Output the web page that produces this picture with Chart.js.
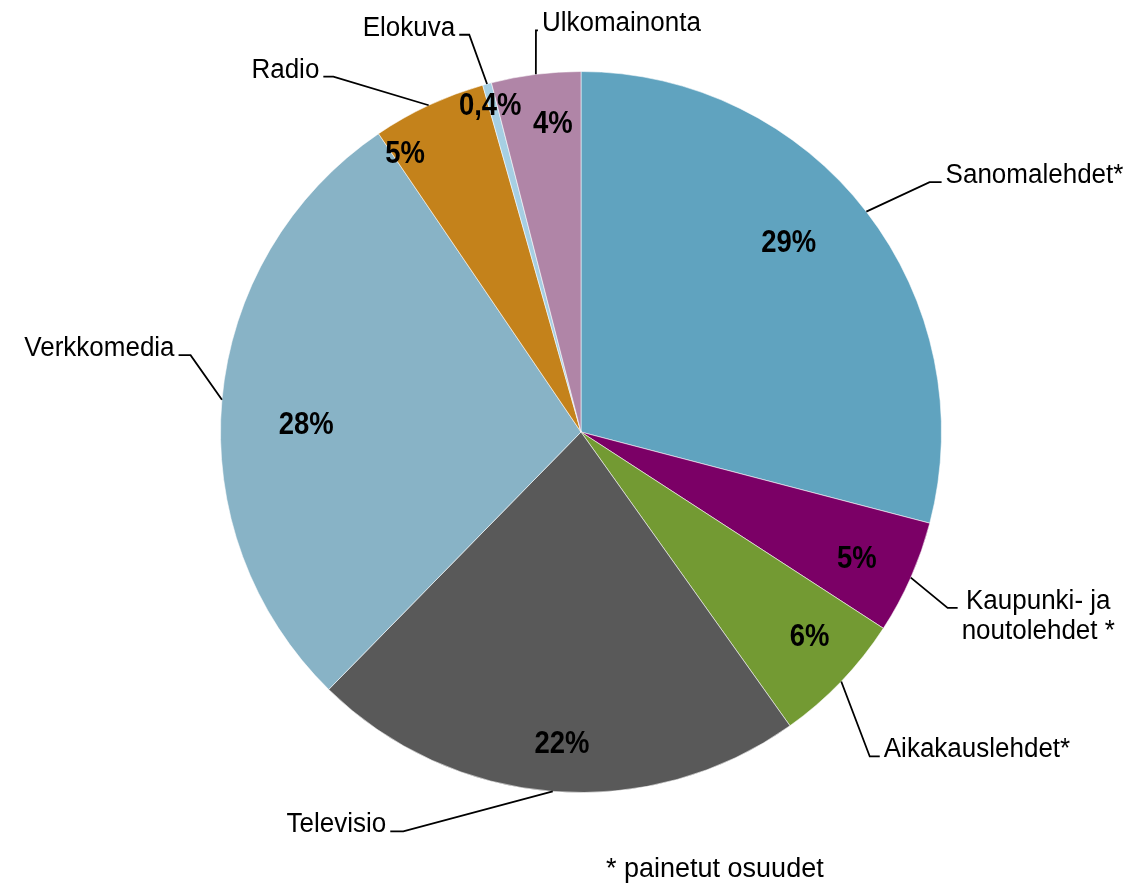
<!DOCTYPE html>
<html>
<head>
<meta charset="utf-8">
<script src="https://cdn.jsdelivr.net/npm/chart.js@4/dist/chart.umd.min.js"></script>
<style>
  html, body { margin: 0; padding: 0; background: #ffffff; }
  #wrap { width: 1131px; height: 885px; position: relative; }
  canvas { display: block; }
</style>
</head>
<body>
<div id="wrap"><canvas id="c" width="1131" height="885"></canvas></div>
<script>
// ---- data ----
const categories = ['Sanomalehdet*', 'Kaupunki- ja noutolehdet *', 'Aikakauslehdet*', 'Televisio', 'Verkkomedia', 'Radio', 'Elokuva', 'Ulkomainonta'];
const categoryLines = [['Sanomalehdet*'], ['Kaupunki- ja', 'noutolehdet *'], ['Aikakauslehdet*'], ['Televisio'], ['Verkkomedia'], ['Radio'], ['Elokuva'], ['Ulkomainonta']];
const shares = [29.1, 5.1, 6.0, 22.2, 28.2, 5.1, 0.4, 4.0];
const footnote = '* painetut osuudet';

// ---- styles / layout ----
const colors = ['#60A3BF', '#7B0066', '#739A33', '#595959', '#88B3C6', '#C4821B', '#A6CFE3', '#B085A7'];
// percentage label centers, relative to pie center in units of radius
const pctPos = [[0.576, -0.529], [0.765, 0.346], [0.634, 0.562], [-0.053, 0.859], [-0.762, -0.025], [-0.488, -0.778], [-0.252, -0.909], [-0.078, -0.861]];
// leader line elbows (units of radius), side of label, horizontal stub length
const leaderElbow = [[0.967, -0.693, 'R', 12], [1.017, 0.488, 'R', 10], [0.801, 0.900, 'R', 10], [-0.493, 1.108, 'L', 13], [-1.083, -0.213, 'L', 12], [-0.687, -0.986, 'L', 10], [-0.310, -1.102, 'L', 10], [-0.125, -1.114, 'R', 2]];

function pctText(v) {
  if (v < 1) return v.toFixed(1).replace('.', ',') + '%';
  return Math.round(v) + '%';
}

// draw text with a slight vertical stretch around its baseline point
function stretchedText(ctx, t, x, y, sx, sy) {
  ctx.save();
  ctx.translate(x, y);
  ctx.scale(sx, sy);
  ctx.fillText(t, 0, 0);
  ctx.restore();
}

const labelPlugin = {
  id: 'pieLabels',
  afterDatasetsDraw(chart) {
    const ctx = chart.ctx;
    const meta = chart.getDatasetMeta(0);
    ctx.save();
    meta.data.forEach((arc, i) => {
      const p = arc.getProps(['x', 'y', 'startAngle', 'endAngle', 'outerRadius'], true);
      const cx = p.x, cy = p.y, r = p.outerRadius;
      const mid = (p.startAngle + p.endAngle) / 2;

      // percentage label
      ctx.fillStyle = '#000000';
      ctx.font = 'bold 28px "Liberation Sans", Arial, sans-serif';
      ctx.textAlign = 'center';
      ctx.textBaseline = 'alphabetic';
      stretchedText(ctx, pctText(shares[i]), cx + pctPos[i][0] * r, cy + pctPos[i][1] * r + 11, 0.98, 1.1);

      // leader line
      const ex = cx + Math.cos(mid) * r;
      const ey = cy + Math.sin(mid) * r;
      const L = leaderElbow[i];
      const bx = cx + L[0] * r;
      const by = cy + L[1] * r;
      const dir = L[2] === 'R' ? 1 : -1;
      const sx = bx + dir * L[3];
      ctx.strokeStyle = '#000000';
      ctx.lineWidth = 1.8;
      ctx.beginPath();
      ctx.moveTo(ex, ey);
      ctx.lineTo(bx, by);
      ctx.lineTo(sx, by);
      ctx.stroke();

      // category label
      ctx.font = '26px "Liberation Sans", Arial, sans-serif';
      const lines = categoryLines[i];
      const widths = lines.map(t => ctx.measureText(t).width);
      const boxW = Math.max(...widths);
      const left = dir > 0 ? sx + 4 : sx - 4 - boxW;
      ctx.textAlign = 'center';
      lines.forEach((t, k) => {
        stretchedText(ctx, t, left + boxW / 2, by + 1 + k * 30, 1, 1.06);
      });
    });

    // footnote
    ctx.font = '27px "Liberation Sans", Arial, sans-serif';
    ctx.textAlign = 'left';
    ctx.textBaseline = 'alphabetic';
    ctx.fillStyle = '#000000';
    stretchedText(ctx, footnote, 606, 877, 1, 1.04);
    ctx.restore();
  }
};

new Chart(document.getElementById('c'), {
  type: 'pie',
  data: {
    labels: categories,
    datasets: [{
      data: shares,
      backgroundColor: colors,
      borderColor: 'rgba(255,255,255,0.55)',
      borderWidth: 1
    }]
  },
  options: {
    responsive: false,
    animation: false,
    layout: { padding: { left: 200, right: 169, top: 71, bottom: 92 } },
    plugins: {
      legend: { display: false },
      tooltip: { enabled: false }
    }
  },
  plugins: [labelPlugin]
});
</script>
</body>
</html>
